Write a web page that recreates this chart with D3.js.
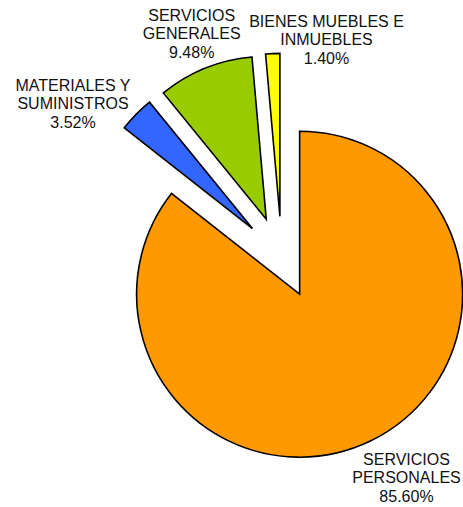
<!DOCTYPE html>
<html>
<head>
<meta charset="utf-8">
<script src="https://cdn.jsdelivr.net/npm/d3@7"></script>
<style>
  html, body { margin: 0; padding: 0; background: #fff; }
  svg { display: block; }
  text { font-family: "Liberation Sans", Arial, sans-serif; font-size: 16px; fill: #111; }
</style>
</head>
<body>
<svg id="chart" width="463" height="507"></svg>
<script>
// ---- data ----
const categories = ["SERVICIOS PERSONALES", "MATERIALES Y SUMINISTROS", "SERVICIOS GENERALES", "BIENES MUEBLES E INMUEBLES"];
const labelLines = [["SERVICIOS", "PERSONALES"], ["MATERIALES Y", "SUMINISTROS"], ["SERVICIOS", "GENERALES"], ["BIENES MUEBLES E", "INMUEBLES"]];
const values = [85.60, 3.52, 9.48, 1.40];
const colors = ["#FF9900", "#3366FF", "#99CC00", "#FFFF00"];

// ---- layout ----
const W = 463, H = 507;
const cx = 281.7, cy = 257.3, R = 163, explode = 41;
const lineH = 18.3;
// label block centre-x and first baseline
const labelAnchor = [[406.5, 465], [73, 91], [191.7, 21], [326.5, 27]];

const svg = d3.select("#chart");
const pie = d3.pie().sort(null).value(d => d)(values);
const arc = d3.arc().innerRadius(0).outerRadius(R);

const g = svg.append("g").attr("transform", `translate(${cx},${cy})`);
g.selectAll("path").data(pie).join("path")
  .attr("d", arc)
  .attr("fill", (d, i) => colors[i])
  .attr("stroke", "#000")
  .attr("stroke-width", 1.6)
  .attr("stroke-linejoin", "miter")
  .attr("transform", d => {
    const a = (d.startAngle + d.endAngle) / 2;
    return `translate(${explode * Math.sin(a)},${-explode * Math.cos(a)})`;
  });

const fmt = d3.format(".2f");
const labels = svg.append("g").selectAll("text").data(pie).join("text")
  .attr("text-anchor", "middle")
  .attr("x", (d, i) => labelAnchor[i][0])
  .attr("y", (d, i) => labelAnchor[i][1]);
labels.each(function(d, i) {
  const t = d3.select(this);
  const lines = labelLines[i].concat([fmt(values[i]) + "%"]);
  lines.forEach((s, k) => {
    t.append("tspan").attr("x", labelAnchor[i][0]).attr("dy", k === 0 ? 0 : lineH).text(s);
  });
});
</script>
</body>
</html>
